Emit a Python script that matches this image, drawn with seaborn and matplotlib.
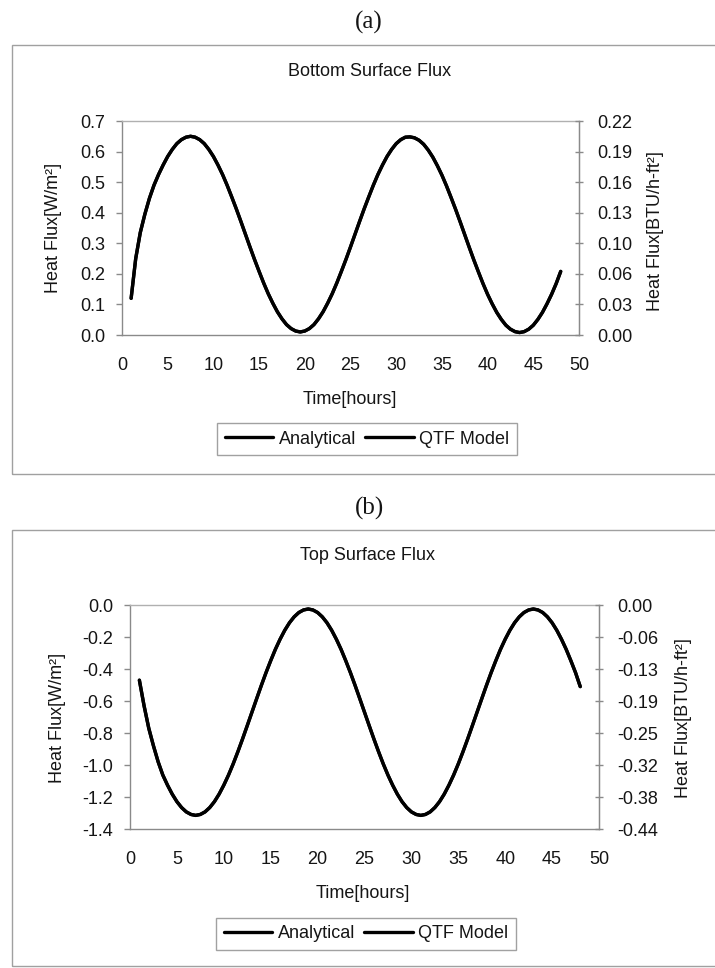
import numpy as np
import pandas as pd
import matplotlib
matplotlib.use("Agg")
import matplotlib.pyplot as plt
import matplotlib.patches as patches
from matplotlib.lines import Line2D
import seaborn as sns

# ---------------- data (read every half hour from the curves) ----------------
hours = [1.0 + 0.5 * i for i in range(95)]   # 1.0, 1.5, ..., 48.0

bottom_flux = [
    0.12, 0.25, 0.335, 0.395, 0.447,
    0.490, 0.525, 0.556, 0.584, 0.607, 0.626, 0.639, 0.647,
    0.650, 0.647, 0.639, 0.626, 0.607, 0.584, 0.556, 0.525, 0.490, 0.452, 0.413, 0.372,
    0.330, 0.288, 0.247, 0.208, 0.170, 0.135, 0.104, 0.076, 0.053, 0.034, 0.021, 0.013,
    0.010, 0.013, 0.021, 0.034, 0.053, 0.076, 0.104, 0.135, 0.170, 0.208, 0.247, 0.288,
    0.330, 0.372, 0.413, 0.452, 0.490, 0.525, 0.556, 0.584, 0.607, 0.626, 0.639, 0.647,
    0.648, 0.645, 0.637, 0.624, 0.605, 0.582, 0.554, 0.523, 0.488, 0.450, 0.411, 0.370,
    0.328, 0.286, 0.245, 0.206, 0.168, 0.133, 0.102, 0.074, 0.051, 0.032, 0.019, 0.011,
    0.008, 0.011, 0.019, 0.032, 0.051, 0.074, 0.102, 0.133, 0.168, 0.208,
]

top_flux = [
    -0.47, -0.63, -0.77, -0.88, -0.98,
    -1.063, -1.126, -1.182, -1.229, -1.266, -1.293, -1.309,
    -1.315, -1.309, -1.293, -1.266, -1.229, -1.182, -1.126, -1.063, -0.993, -0.917, -0.837, -0.754,
    -0.670, -0.586, -0.503, -0.423, -0.348, -0.277, -0.214, -0.158, -0.111, -0.074, -0.047, -0.031,
    -0.025, -0.031, -0.047, -0.074, -0.111, -0.158, -0.214, -0.277, -0.348, -0.423, -0.503, -0.586,
    -0.670, -0.754, -0.837, -0.917, -0.993, -1.063, -1.126, -1.182, -1.229, -1.266, -1.293, -1.309,
    -1.315, -1.309, -1.293, -1.266, -1.229, -1.182, -1.126, -1.063, -0.993, -0.917, -0.837, -0.754,
    -0.670, -0.586, -0.503, -0.423, -0.348, -0.277, -0.214, -0.158, -0.111, -0.074, -0.047, -0.031,
    -0.025, -0.031, -0.047, -0.074, -0.111, -0.158, -0.214, -0.277, -0.348, -0.423, -0.510,
]

series_names = ["Analytical", "QTF Model"]

x_ticks = [0, 5, 10, 15, 20, 25, 30, 35, 40, 45, 50]
a_left_ticks = [0.0, 0.1, 0.2, 0.3, 0.4, 0.5, 0.6, 0.7]
a_right_labels = ["0.00", "0.03", "0.06", "0.10", "0.13", "0.16", "0.19", "0.22"]
b_left_ticks = [-1.4, -1.2, -1.0, -0.8, -0.6, -0.4, -0.2, 0.0]
b_right_labels = ["-0.44", "-0.38", "-0.32", "-0.25", "-0.19", "-0.13", "-0.06", "0.00"]

# ---------------- style ----------------
sns.set_style("white")
plt.rcParams['font.family'] = ['Liberation Sans', 'DejaVu Sans']
plt.rcParams['axes.unicode_minus'] = False

W, H = 715, 968
fig = plt.figure(figsize=(W / 100, H / 100), dpi=100)

TXT = '#151515'
SPINE = '#8a8a8a'
FS = 13


def fx(px):
    return px / W


def fy(py):
    return 1 - py / H


def make_df(values):
    rows = []
    for name in series_names:
        for h, v in zip(hours, values):
            rows.append({"Time": h, "Flux": v, "Series": name})
    return pd.DataFrame(rows)


def panel(left, right, top, bottom, values, lticks, rlabels, ylim):
    ax = fig.add_axes([fx(left), fy(bottom), fx(right - left), fy(top) - fy(bottom)])
    df = make_df(values)
    sns.lineplot(data=df, x="Time", y="Flux", hue="Series",
                 palette=["black", "black"], linewidth=2.4, ax=ax, legend=False)
    ax.set_xlim(0, 50)
    ax.set_ylim(*ylim)
    ax.set_xticks(x_ticks)
    ax.set_xticklabels([str(t) for t in x_ticks])
    ax.set_yticks(lticks)
    ax.set_yticklabels(["%.1f" % t for t in lticks])
    ax.set_xlabel("")
    ax.set_ylabel("")
    for s in ax.spines.values():
        s.set_color(SPINE)
        s.set_linewidth(1.0)
    ax.spines['top'].set_color('#b0b0b0')
    ax.tick_params(axis='both', direction='out', length=4, width=1, color=SPINE,
                   labelsize=FS, labelcolor=TXT)
    ax.tick_params(axis='x', pad=12)
    ax.tick_params(axis='y', pad=8)
    ax2 = ax.twinx()
    ax2.set_ylim(*ylim)
    ax2.set_yticks(lticks)
    ax2.set_yticklabels(rlabels)
    for s in ax2.spines.values():
        s.set_visible(False)
    ax2.spines['right'].set_visible(True)
    ax2.spines['right'].set_color(SPINE)
    ax2.tick_params(axis='y', direction='inout', length=6, width=1, color=SPINE,
                    labelsize=FS, labelcolor=TXT, pad=10)
    return ax


# frames
for (y0, y1) in [(45, 474), (530, 966)]:
    fig.patches.append(patches.Rectangle((fx(12), fy(y1)), 1.2, fy(y0) - fy(y1),
                                         transform=fig.transFigure, fill=False,
                                         edgecolor='#a0a0a0', linewidth=1.0))

# panel (a)
ax_a = panel(122, 579, 121, 335, bottom_flux, a_left_ticks, a_right_labels, (0.0, 0.7))
fig.text(fx(369), fy(22), "(a)", ha='center', va='center', fontsize=18,
         family=['Liberation Serif', 'DejaVu Serif'], color=TXT)
fig.text(fx(370), fy(72), "Bottom Surface Flux", ha='center', va='center', fontsize=FS, color=TXT)
fig.text(fx(350), fy(400), "Time[hours]", ha='center', va='center', fontsize=FS, color=TXT)
fig.text(fx(53), fy(228), "Heat Flux[W/m²]", ha='center', va='center', rotation=90, fontsize=FS, color=TXT)
fig.text(fx(655), fy(231), "Heat Flux[BTU/h-ft²]", ha='center', va='center', rotation=90, fontsize=FS, color=TXT)

# panel (b)
ax_b = panel(130, 599, 605, 829, top_flux, b_left_ticks, b_right_labels, (-1.4, 0.0))
fig.text(fx(369), fy(508), "(b)", ha='center', va='center', fontsize=18,
         family=['Liberation Serif', 'DejaVu Serif'], color=TXT)
fig.text(fx(368), fy(556), "Top Surface Flux", ha='center', va='center', fontsize=FS, color=TXT)
fig.text(fx(363), fy(893), "Time[hours]", ha='center', va='center', fontsize=FS, color=TXT)
fig.text(fx(58), fy(718), "Heat Flux[W/m²]", ha='center', va='center', rotation=90, fontsize=FS, color=TXT)
fig.text(fx(683), fy(718), "Heat Flux[BTU/h-ft²]", ha='center', va='center', rotation=90, fontsize=FS, color=TXT)

# legends
handles = [Line2D([], [], color='black', linewidth=2.4) for _ in series_names]
for (cx, cy) in [(367, 439), (366, 934)]:
    leg = fig.legend(handles, series_names, loc='center', bbox_to_anchor=(fx(cx), fy(cy)),
                     ncol=2, frameon=True, fancybox=False, fontsize=FS, handlelength=2.7,
                     handletextpad=0.3, columnspacing=0.5, borderpad=0.4, borderaxespad=0)
    leg.get_frame().set_edgecolor('#8a8a8a')
    leg.get_frame().set_linewidth(1.0)
    for t in leg.get_texts():
        t.set_color(TXT)

fig.savefig("out.png", dpi=100)
